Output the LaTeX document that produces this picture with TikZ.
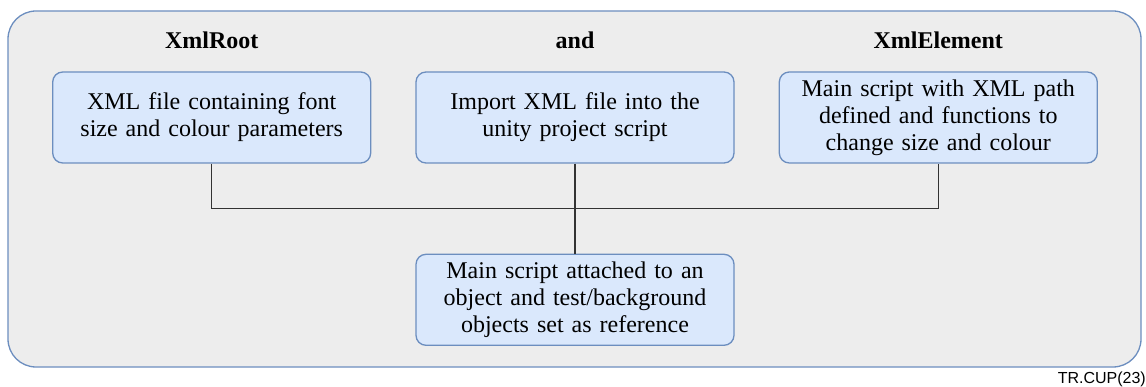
\documentclass[tikz,border=0pt]{standalone}
\usepackage{fontspec}
\setmainfont{Liberation Serif}
\newfontfamily\tagfont{Liberation Sans}
\usepackage{xcolor}
\usepackage{tikz}
\usetikzlibrary{
	calc,
	positioning,
	}

\definecolor{boxfill}{HTML}{DAE8FC}
\definecolor{boxline}{HTML}{6C8EBF}
\definecolor{panelfill}{HTML}{EDEDED}
\definecolor{wire}{HTML}{333333}

\tikzset{
	stepbox/.style={draw=boxline, fill=boxfill, line width=1.3pt, rounded corners=10pt,
		minimum width=318pt, minimum height=91pt, text width=300pt, align=center,
		inner sep=0pt, font=\fontsize{24}{27}\selectfont},
	heading/.style={inner sep=0pt, font=\fontsize{24}{27}\selectfont\bfseries},
	}

\begin{document}
\begin{tikzpicture}[x=1pt, y=-1pt, node distance={44pt}]
			\useasboundingbox (0,0) rectangle (1146,387);
			\draw[boxline, fill=panelfill, line width=1.3pt, rounded corners=28pt] (8,11) rectangle (1141,367);

			\node[stepbox] (mid) at (575,117.5) {Import XML file into the\\unity project script};
			\node[stepbox, left=44pt of mid] (xmlfile) {XML file containing font\\size and colour parameters};
			\node[stepbox, right=44pt of mid] (mainxml) {Main script with XML path\\defined and functions to\\change size and colour};
			\node[stepbox, below=90pt of mid] (attach) {Main script attached to an\\object and test/background\\objects set as reference};

			\node[heading, above=22pt of xmlfile] (root) {XmlRoot};
			\node[heading, above=22pt of mid] (and) {and};
			\node[heading, above=22pt of mainxml] (element) {XmlElement};

			\coordinate (joint) at ($(mid.south)!0.5!(attach.north)$);
			\draw[wire, line width=1.3pt] (xmlfile.south) |- (joint) -| (mainxml.south);
			\draw[wire, line width=1.3pt] (mid.south) -- (attach.north);

			\node[anchor=south east, inner sep=0pt, font=\tagfont\fontsize{16}{18}\selectfont] (tag) at (1146,387) {TR.CUP(23)};
		\end{tikzpicture}
\end{document}
